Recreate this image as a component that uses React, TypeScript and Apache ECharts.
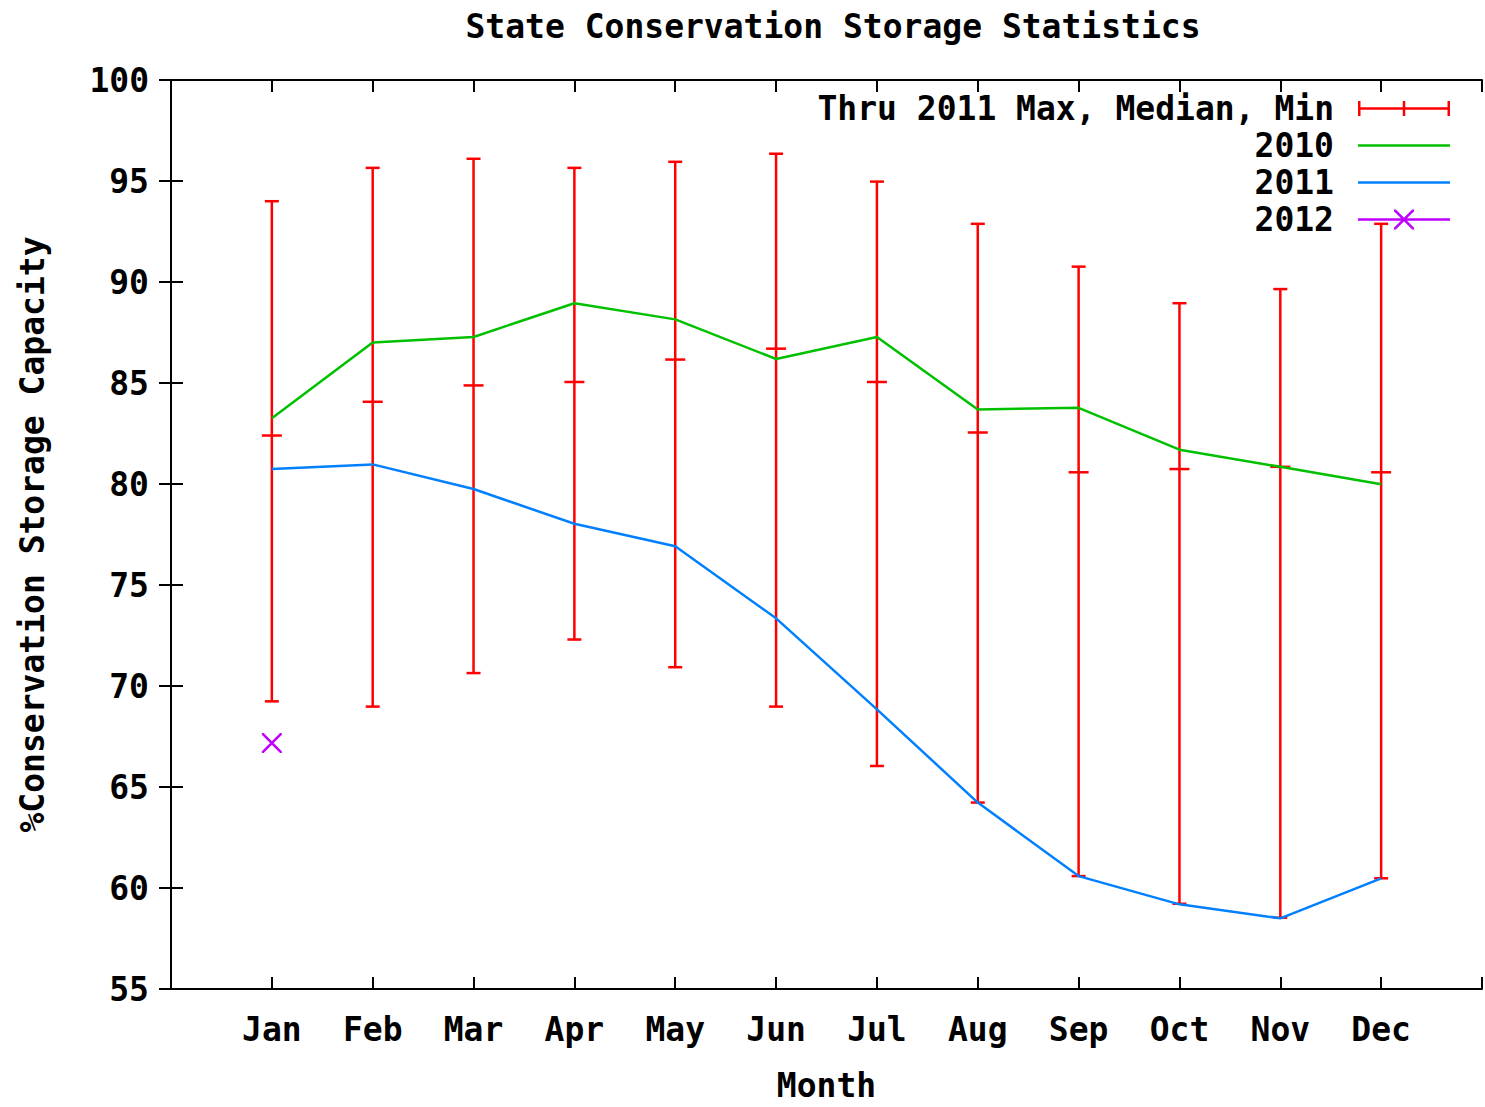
import React, { useEffect, useRef } from "react";
import * as echarts from "echarts";

const months = ["Jan", "Feb", "Mar", "Apr", "May", "Jun", "Jul", "Aug", "Sep", "Oct", "Nov", "Dec"];
const monthPos = [1, 2, 3, 4, 5, 6, 7, 8, 9, 10, 11, 12];
const histMax = [94.0, 95.65, 96.1, 95.65, 95.95, 96.35, 94.97, 92.88, 90.76, 88.95, 89.65, 92.88];
const histMedian = [82.4, 84.07, 84.88, 85.05, 86.16, 86.7, 85.05, 82.55, 80.58, 80.74, 80.85, 80.58];
const histMin = [69.24, 68.98, 70.64, 72.3, 70.93, 68.98, 66.04, 64.23, 60.59, 59.22, 58.53, 60.48];
const y2010 = [83.25, 87.0, 87.28, 88.95, 88.15, 86.19, 87.28, 83.69, 83.77, 81.7, 80.85, 79.99];
const y2011 = [80.74, 80.97, 79.75, 78.03, 76.92, 73.35, 68.84, 64.23, 60.59, 59.19, 58.5, 60.48];
const y2012 = [67.18];
const yTicks = { min: 55, max: 100, interval: 5 };

const FONT = "'DejaVu Sans Mono', 'Liberation Mono', monospace";
const FS = 33;

const xPath = "M0,0L1.8,0L20,18.2L20,20L18.2,20L0,1.8Z M20,0L20,1.8L1.8,20L0,20L0,18.2L18.2,0Z";
const errIcon = "path://M0,6.25H92V8.75H0Z M0,0H2.5V15H0Z M89.5,0H92V15H89.5Z M44.75,0H47.25V15H44.75Z";
const lineIcon = "path://M0,0H92V2.5H0Z";
const icon2012 =
  "path://M0,8.75H92V11.25H0Z M36,0L37.8,0L56,18.2L56,20L54.2,20L36,1.8Z M56,0L56,1.8L37.8,20L36,20L36,18.2L54.2,0Z";

export default function App() {
  const ref = useRef<HTMLDivElement>(null);
  useEffect(() => {
    if (!ref.current) return;
    const chart = echarts.init(ref.current, null, { renderer: "svg" });
    const errData = monthPos.map((m, i) => [m, histMin[i], histMedian[i], histMax[i]]);
    const textBase = { fontFamily: FONT, fontSize: FS, fontWeight: "bold" as const, color: "#000" };
    chart.setOption({
      animation: false,
      backgroundColor: "#fff",
      title: {
        text: "State Conservation Storage Statistics",
        left: 828,
        textAlign: "center",
        top: 5,
        textStyle: { ...textBase },
      },
      legend: {
        orient: "vertical",
        align: "right",
        right: 35,
        top: 92,
        padding: 0,
        itemWidth: 92,
        itemHeight: 20,
        itemGap: 4,
        textStyle: { ...textBase, padding: [0, 19, 0, 0] },
        data: [
          { name: "Thru 2011 Max, Median, Min", icon: errIcon, itemStyle: { color: "#ff0000" } },
          { name: "2010", icon: lineIcon, itemStyle: { color: "#00c000" } },
          { name: "2011", icon: lineIcon, itemStyle: { color: "#0080ff" } },
          { name: "2012", icon: icon2012, itemStyle: { color: "#c000ff" } },
        ],
      },
      grid: { left: 171, top: 80, width: 1313, height: 919 },
      xAxis: [
        {
          type: "value",
          min: 0,
          max: 13,
          interval: 1,
          name: "Month",
          nameLocation: "middle",
          nameGap: 80,
          nameTextStyle: { ...textBase },
          axisLine: { lineStyle: { color: "#000", width: 2 } },
          axisTick: { inside: true, length: 12, lineStyle: { color: "#000", width: 2 } },
          axisLabel: {
            ...textBase,
            margin: 24,
            formatter: (v: number) => (v >= 1 && v <= 12 ? months[v - 1] : ""),
          },
          splitLine: { show: false },
        },
        {
          type: "value",
          position: "top",
          min: 0,
          max: 13,
          interval: 1,
          axisLine: { lineStyle: { color: "#000", width: 2 } },
          axisTick: { inside: true, length: 12, lineStyle: { color: "#000", width: 2 } },
          axisLabel: { show: false },
          splitLine: { show: false },
        },
      ],
      yAxis: [
        {
          type: "value",
          ...yTicks,
          name: "%Conservation Storage Capacity",
          nameLocation: "middle",
          nameGap: 122,
          nameRotate: 90,
          nameTextStyle: { ...textBase },
          axisLine: { show: true, lineStyle: { color: "#000", width: 2 } },
          axisTick: { show: true, inside: true, length: 12, lineStyle: { color: "#000", width: 2 } },
          axisLabel: { ...textBase, margin: 22 },
          splitLine: { show: false },
        },
        {
          type: "value",
          position: "right",
          ...yTicks,
          axisLine: { show: true, lineStyle: { color: "#000", width: 2 } },
          axisTick: { show: true, inside: true, length: 12, lineStyle: { color: "#000", width: 2 } },
          axisLabel: { show: false },
          splitLine: { show: false },
        },
      ],
      series: [
        {
          name: "Thru 2011 Max, Median, Min",
          type: "custom",
          itemStyle: { color: "#ff0000" },
          encode: { x: 0, y: [1, 2, 3] },
          data: errData,
          renderItem: (params: any, api: any) => {
            const x = api.value(0);
            const lo = api.coord([x, api.value(1)]);
            const med = api.coord([x, api.value(2)]);
            const hi = api.coord([x, api.value(3)]);
            const st = { stroke: "#ff0000", lineWidth: 2.5 };
            const cap = 7;
            const mcap = 10;
            return {
              type: "group",
              children: [
                { type: "line", shape: { x1: lo[0], y1: lo[1], x2: hi[0], y2: hi[1] }, style: st },
                { type: "line", shape: { x1: lo[0] - cap, y1: lo[1], x2: lo[0] + cap, y2: lo[1] }, style: st },
                { type: "line", shape: { x1: hi[0] - cap, y1: hi[1], x2: hi[0] + cap, y2: hi[1] }, style: st },
                { type: "line", shape: { x1: med[0] - mcap, y1: med[1], x2: med[0] + mcap, y2: med[1] }, style: st },
              ],
            };
          },
        },
        {
          name: "2010",
          type: "line",
          symbol: "none",
          data: monthPos.map((m, i) => [m, y2010[i]]),
          itemStyle: { color: "#00c000" },
          lineStyle: { color: "#00c000", width: 2.5 },
        },
        {
          name: "2011",
          type: "line",
          symbol: "none",
          data: monthPos.map((m, i) => [m, y2011[i]]),
          itemStyle: { color: "#0080ff" },
          lineStyle: { color: "#0080ff", width: 2.5 },
        },
        {
          name: "2012",
          type: "line",
          symbol: "path://" + xPath,
          symbolSize: 20,
          data: y2012.map((v, i) => [monthPos[i], v]),
          itemStyle: { color: "#c000ff" },
          lineStyle: { color: "#c000ff", width: 2.5 },
        },
      ],
    });
    return () => chart.dispose();
  }, []);
  return (
    <div
      ref={ref}
      style={{ position: "absolute", left: 0, top: 0, width: 1485, height: 1107, background: "#fff" }}
    />
  );
}
